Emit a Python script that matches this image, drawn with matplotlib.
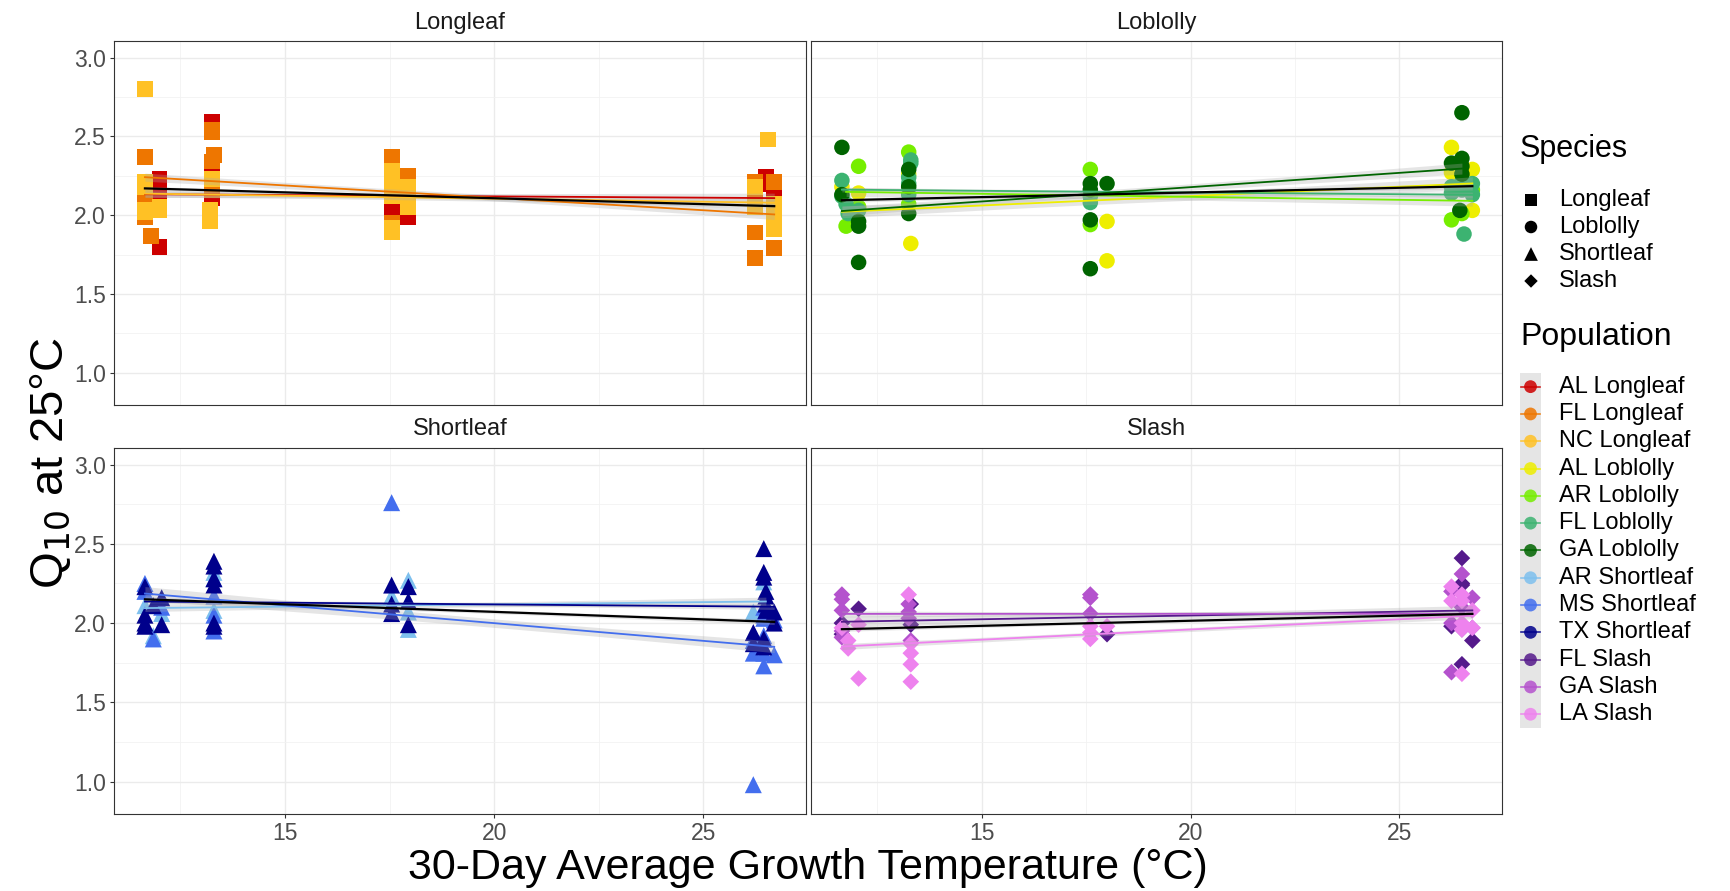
import numpy as np
import matplotlib.pyplot as plt

plt.rcParams['font.family'] = ['Liberation Sans', 'DejaVu Sans']

# Species panels and their point shapes
species = ["Longleaf", "Loblolly", "Shortleaf", "Slash"]
species_markers = ["s", "o", "^", "D"]
species_sizes = [130, 125, 150, 72]

# Populations, the species each belongs to, and their colours
populations = ["AL Longleaf", "FL Longleaf", "NC Longleaf",
               "AL Loblolly", "AR Loblolly", "FL Loblolly", "GA Loblolly",
               "AR Shortleaf", "MS Shortleaf", "TX Shortleaf",
               "FL Slash", "GA Slash", "LA Slash"]
pop_species = ["Longleaf"] * 3 + ["Loblolly"] * 4 + ["Shortleaf"] * 3 + ["Slash"] * 3
pop_colors = ["#CD0000", "#EE7600", "#FFC125",
              "#EEEE00", "#76EE00", "#3CB371", "#006400",
              "#7EC0EE", "#436EEE", "#00008B",
              "#551A8B", "#B452CD", "#EE82EE"]

# 30-day growth temperature (C) and Q10 at 25C for each population
al_longleaf_temp = [11.65, 11.65, 12.0, 12.0, 12.0, 12.0, 12.0, 13.25, 13.25, 13.25, 13.25,
                    17.55, 17.55, 17.55, 17.95, 26.5, 26.5, 26.7, 26.7]
al_longleaf_q10 = [2.12, 2.05, 2.23, 2.19, 2.14, 2.05, 1.80, 2.59, 2.28, 2.20, 2.11,
                   1.99, 2.07, 2.02, 1.99, 2.24, 2.20, 2.13, 1.97]

fl_longleaf_temp = [11.65, 11.65, 11.65, 11.65, 11.8, 12.0, 13.25, 13.25, 13.3, 13.25, 13.25, 17.55, 17.55, 17.55,
                    17.95, 26.25, 26.25, 26.25, 26.25, 26.7, 26.7, 26.7]
fl_longleaf_q10 = [2.37, 2.14, 2.05, 1.99, 1.87, 2.04, 2.54, 2.53, 2.38, 2.34, 2.16, 2.37, 2.34, 1.95,
                   2.25, 2.21, 2.09, 1.89, 1.73, 2.21, 1.92, 1.79]

nc_longleaf_temp = [11.65, 11.65, 11.65, 11.65, 11.65, 12.0, 12.0, 13.25, 13.2, 13.2, 13.2,
                    17.55, 17.55, 17.55, 17.55, 17.55, 17.95, 17.95, 17.95,
                    26.25, 26.25, 26.55, 26.7, 26.7, 26.7, 26.7]
nc_longleaf_q10 = [2.80, 2.21, 2.18, 2.03, 2.02, 2.05, 2.03, 2.23, 2.03, 1.99, 1.96,
                   2.28, 2.18, 2.12, 1.92, 1.89, 2.18, 2.12, 2.05,
                   2.18, 2.05, 2.48, 2.07, 2.02, 1.95, 1.91]

al_loblolly_temp = [11.65, 12.05, 12.05, 13.25, 13.3, 18.0, 18.0, 26.25, 26.25, 26.75, 26.75]
al_loblolly_q10 = [2.18, 2.14, 2.05, 2.26, 1.82, 1.96, 1.71, 2.43, 2.27, 2.29, 2.03]

ar_loblolly_temp = [11.75, 12.05, 12.05, 13.25, 13.25, 17.6, 17.6, 26.25, 26.5, 26.5, 26.75]
ar_loblolly_q10 = [1.93, 2.31, 2.05, 2.40, 2.07, 2.29, 1.94, 1.97, 2.01, 2.21, 2.16]

fl_loblolly_temp = [11.65, 11.65, 11.75, 11.8, 12.05, 13.3, 13.3, 13.25, 13.25, 13.25, 17.6, 17.6,
                    26.25, 26.25, 26.5, 26.5, 26.55, 26.75, 26.75]
fl_loblolly_q10 = [2.22, 2.12, 2.07, 2.01, 2.03, 2.35, 2.33, 2.24, 2.20, 2.13, 2.12, 2.08,
                   2.18, 2.14, 2.21, 2.16, 1.88, 2.20, 2.13]

ga_loblolly_temp = [11.65, 11.65, 12.05, 12.05, 12.05, 13.25, 13.25, 13.25, 17.6, 17.6, 17.6, 17.6, 18.0,
                    26.25, 26.5, 26.5, 26.5, 26.5, 26.45]
ga_loblolly_q10 = [2.43, 2.13, 1.96, 1.93, 1.70, 2.29, 2.18, 2.01, 2.20, 2.16, 1.97, 1.66, 2.20,
                   2.33, 2.65, 2.36, 2.31, 2.26, 2.03]

ar_shortleaf_temp = [11.65, 11.85, 12.05, 13.3, 13.3, 17.55, 17.95, 17.95, 17.95, 26.2, 26.45, 26.5]
ar_shortleaf_q10 = [2.11, 1.92, 2.06, 2.32, 2.08, 2.17, 2.27, 2.07, 1.96, 2.07, 2.26, 2.05]

ms_shortleaf_temp = [11.65, 11.65, 11.85, 12.05, 13.3, 13.3, 13.3, 13.3, 17.55,
                     26.2, 26.2, 26.2, 26.45, 26.45, 26.45, 26.45, 26.45, 26.45, 26.7, 26.7]
ms_shortleaf_q10 = [2.25, 2.20, 1.90, 2.10, 2.28, 2.17, 2.05, 1.95, 2.76,
                    0.98, 1.89, 1.81, 2.10, 2.05, 2.03, 1.92, 1.81, 1.73, 1.80, 2.02]

tx_shortleaf_temp = [11.65, 11.65, 11.65, 11.65, 11.85, 12.05, 12.05, 13.3, 13.3, 13.3, 13.3, 13.3, 13.3,
                     17.55, 17.55, 17.55, 17.95, 17.95, 17.95,
                     26.2, 26.2, 26.45, 26.45, 26.45, 26.5, 26.5, 26.5, 26.5, 26.45, 26.45, 26.7, 26.7]
tx_shortleaf_q10 = [2.23, 2.05, 2.00, 1.98, 2.11, 2.16, 1.99, 2.39, 2.36, 2.28, 2.24, 2.00, 1.98,
                    2.24, 2.12, 2.06, 2.23, 2.14, 1.99,
                    1.94, 1.87, 2.47, 2.32, 2.29, 2.20, 2.17, 2.12, 2.08, 1.90, 1.85, 2.07, 2.00]

fl_slash_temp = [11.65, 11.65, 12.05, 13.3, 13.3, 18.0, 26.25, 26.5, 26.5, 26.5, 26.5, 26.75]
fl_slash_q10 = [2.00, 1.93, 2.09, 2.12, 1.99, 1.93, 1.98, 2.41, 2.25, 2.24, 1.74, 1.89]

ga_slash_temp = [11.65, 11.65, 11.65, 11.65, 11.65, 13.25, 13.25, 13.25, 13.3, 17.6, 17.6, 17.6,
                 26.25, 26.25, 26.25, 26.5, 26.5, 26.5, 26.75, 26.75]
ga_slash_q10 = [2.18, 2.15, 2.08, 1.95, 1.91, 2.12, 2.07, 2.03, 1.89, 2.18, 2.16, 2.06,
                2.20, 2.00, 1.69, 2.31, 2.10, 1.96, 2.16, 1.97]

la_slash_temp = [11.65, 11.8, 11.8, 12.05, 12.05, 13.25, 13.3, 13.3, 13.3, 13.3, 17.6, 17.6, 17.6, 18.0,
                 26.25, 26.25, 26.5, 26.5, 26.5, 26.5, 26.5, 26.75, 26.75]
la_slash_q10 = [1.97, 1.89, 1.84, 1.99, 1.65, 2.18, 1.87, 1.81, 1.74, 1.63, 1.98, 1.94, 1.90, 1.98,
                2.23, 2.14, 2.18, 2.14, 2.00, 1.96, 1.68, 2.08, 1.97]

pop_temp = [al_longleaf_temp, fl_longleaf_temp, nc_longleaf_temp,
            al_loblolly_temp, ar_loblolly_temp, fl_loblolly_temp, ga_loblolly_temp,
            ar_shortleaf_temp, ms_shortleaf_temp, tx_shortleaf_temp,
            fl_slash_temp, ga_slash_temp, la_slash_temp]
pop_q10 = [al_longleaf_q10, fl_longleaf_q10, nc_longleaf_q10,
           al_loblolly_q10, ar_loblolly_q10, fl_loblolly_q10, ga_loblolly_q10,
           ar_shortleaf_q10, ms_shortleaf_q10, tx_shortleaf_q10,
           fl_slash_q10, ga_slash_q10, la_slash_q10]

W, H = 1730, 891


# Least squares line with a narrow standard error ribbon around it
def fit_line(x, y):
    x = np.asarray(x, dtype=float)
    y = np.asarray(y, dtype=float)
    slope, intercept = np.polyfit(x, y, 1)
    xs = np.linspace(x.min(), x.max(), 80)
    ys = intercept + slope * xs
    n = len(x)
    resid = y - (intercept + slope * x)
    s = np.sqrt(np.sum(resid ** 2) / (n - 2))
    sxx = np.sum((x - x.mean()) ** 2)
    se = s * np.sqrt(1.0 / n + (xs - x.mean()) ** 2 / sxx)
    return xs, ys, 0.4 * se


def px_axes(fig, x0, y0, x1, y1):
    return fig.add_axes([x0 / W, 1 - y1 / H, (x1 - x0) / W, (y1 - y0) / H])


fig = plt.figure(figsize=(W / 100, H / 100), dpi=100)

panel_px = [(114, 41, 806, 405), (811, 41, 1502, 405),
            (114, 448, 806, 814), (811, 448, 1502, 814)]

for k, sp in enumerate(species):
    ax = px_axes(fig, *panel_px[k])
    all_x, all_y = [], []
    idx = [i for i, s in enumerate(pop_species) if s == sp]

    for i in idx:
        ax.scatter(pop_temp[i], pop_q10[i], marker=species_markers[k], s=species_sizes[k],
                   color=pop_colors[i], edgecolors='none', zorder=2)
        all_x += pop_temp[i]
        all_y += pop_q10[i]

    for i in idx:
        xs, ys, band = fit_line(pop_temp[i], pop_q10[i])
        ax.fill_between(xs, ys - band, ys + band, color='#AAAAAA', alpha=0.3, lw=0, zorder=3)
        ax.plot(xs, ys, color=pop_colors[i], lw=1.3, zorder=4)

    xs, ys, band = fit_line(all_x, all_y)
    ax.fill_between(xs, ys - band, ys + band, color='#AAAAAA', alpha=0.3, lw=0, zorder=3)
    ax.plot(xs, ys, color='black', lw=1.6, zorder=5)

    ax.set_xlim(10.91, 27.46)
    ax.set_ylim(0.795, 3.105)
    ax.set_xticks([15, 20, 25])
    ax.set_xticks([12.5, 17.5, 22.5], minor=True)
    ax.set_yticks([1.0, 1.5, 2.0, 2.5, 3.0])
    ax.set_yticks([1.25, 1.75, 2.25, 2.75], minor=True)
    ax.grid(True, which='major', color='#EBEBEB', lw=1.0, zorder=0)
    ax.grid(True, which='minor', color='#F2F2F2', lw=0.6, zorder=0)
    ax.set_axisbelow(True)
    for spine in ax.spines.values():
        spine.set_color('#333333')
        spine.set_linewidth(0.8)

    ax.tick_params(which='both', direction='out', length=3, width=0.8, color='#333333',
                   labelcolor='#4D4D4D', labelsize=16.5, pad=3)
    ax.tick_params(which='minor', length=0)
    ax.set_yticklabels(["1.0", "1.5", "2.0", "2.5", "3.0"])
    if k < 2:
        ax.tick_params(axis='x', which='major', length=0, labelbottom=False)
    if k % 2 == 1:
        ax.tick_params(axis='y', which='major', length=0, labelleft=False)

    ax.set_title(sp, fontsize=17, color='#1A1A1A', pad=9)

# Axis titles shared by the four panels
fig.text(808 / W, 1 - 868 / H, "30-Day Average Growth Temperature (°C)",
         ha='center', va='center', fontsize=31)
fig.text(51 / W, 1 - 463 / H, r"Q$_{10}$ at 25°C", rotation=90,
         ha='center', va='center', fontsize=34)

# Legends drawn in figure pixel space
lax = fig.add_axes([0, 0, 1, 1], zorder=-1)
lax.set_xlim(0, W)
lax.set_ylim(H, 0)
lax.axis('off')

lax.text(1520, 149, "Species", fontsize=22, va='center', ha='left')
for j, sp in enumerate(species):
    yy = 200 + 27 * j
    lax.scatter([1531], [yy], marker=species_markers[j], s=species_sizes[j] * 0.65,
                color='black', edgecolors='none')
    lax.text(1559, yy, sp, fontsize=17, va='center', ha='left')

lax.text(1520, 337, "Population", fontsize=23, va='center', ha='left')
key_top = 373
key_step = 27.3
lax.fill_between([1520, 1541], key_top, key_top + key_step * len(populations),
                 color='#E5E5E5', lw=0)
for j, pop in enumerate(populations):
    yy = key_top + key_step * (j + 0.5)
    lax.plot([1521, 1540], [yy, yy], color=pop_colors[j], lw=1.2, alpha=0.85)
    lax.scatter([1530.5], [yy], marker='o', s=85, color=pop_colors[j], alpha=0.85,
                edgecolors='none')
    lax.text(1559, yy, pop, fontsize=17, va='center', ha='left')

fig.savefig("out.png", dpi=100)
